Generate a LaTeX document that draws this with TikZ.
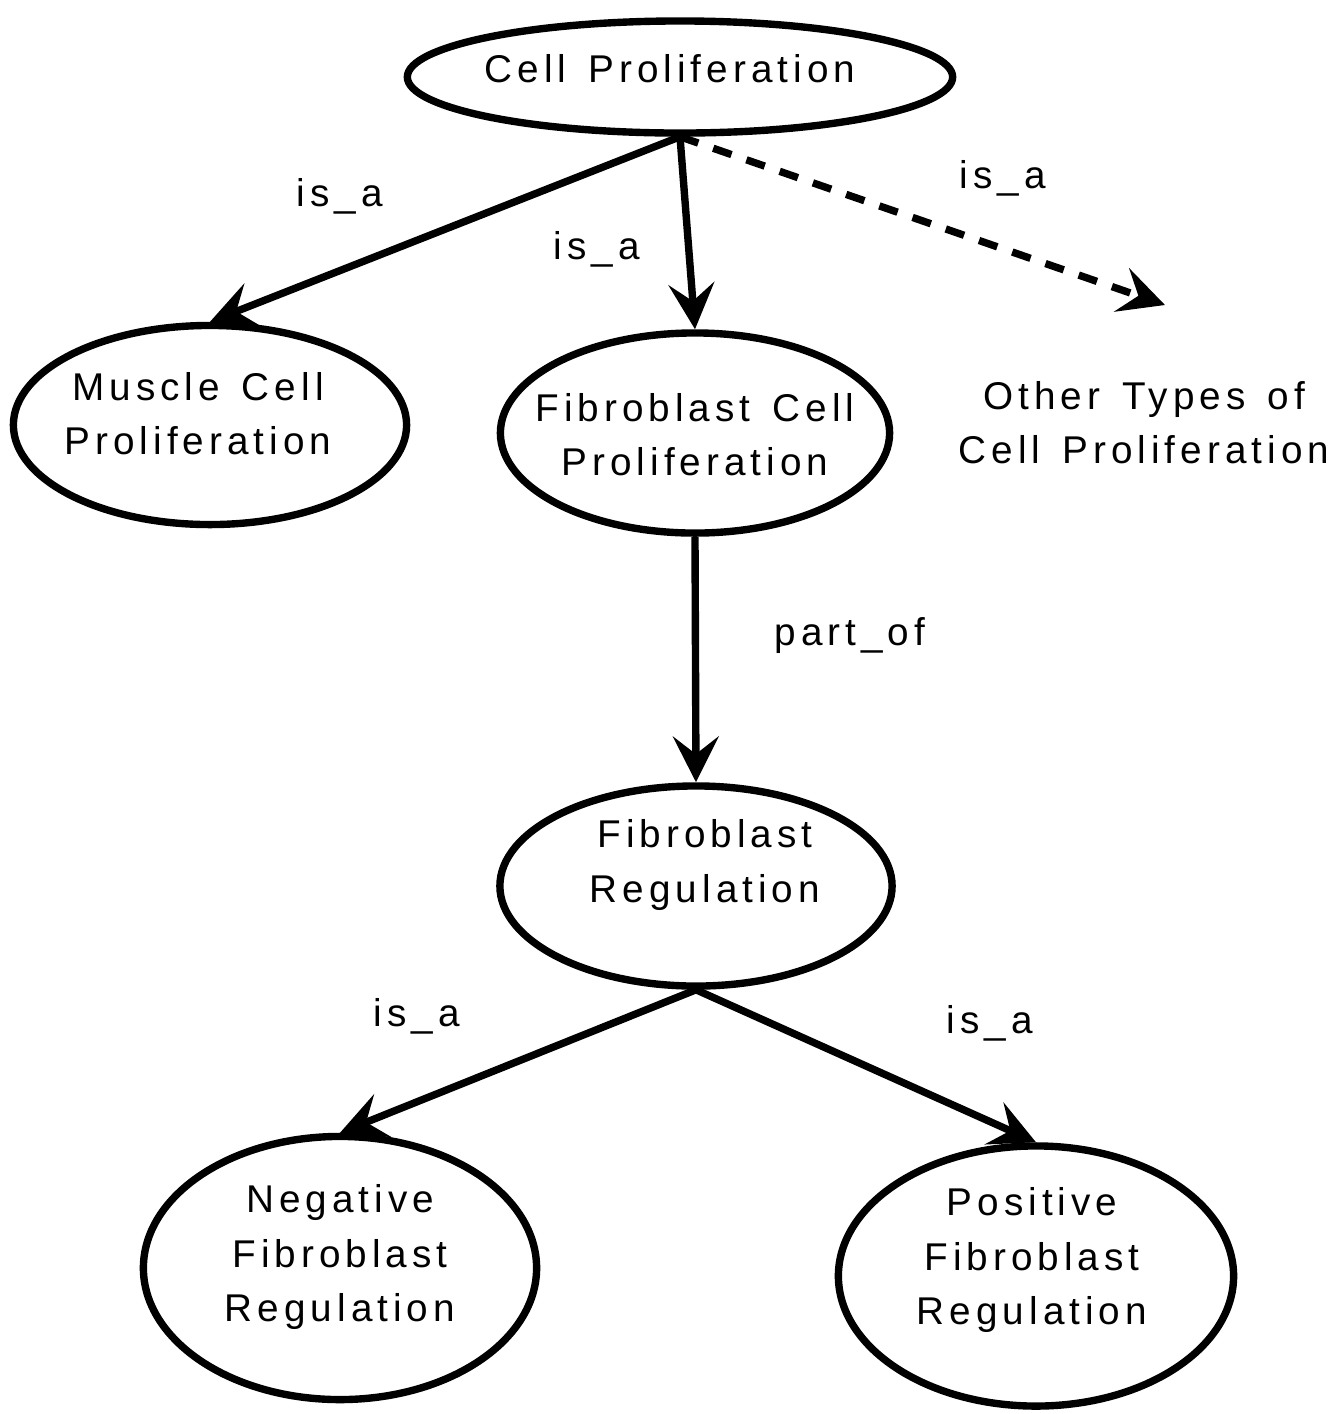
\documentclass[tikz,border=0pt]{standalone}
\usepackage{fontspec}
\usepackage{tikz}
\usetikzlibrary{shapes.geometric,arrows.meta}
\newfontfamily\termfont{Liberation Sans}[LetterSpace=13, WordSpace=1.4]

\tikzset{
  term/.style={ellipse, draw, line width=2.1pt, inner sep=0pt},
  termtext/.style={align=center, inner sep=0pt,
                   font=\termfont\fontsize{11}{15.4}\selectfont},
  rel/.style={-{Stealth[length=13pt, width=13pt, inset=5pt]}, line width=2.1pt},
  rellabel/.style={font=\termfont\fontsize{11}{15.4}\selectfont, inner sep=0pt},
}

\begin{document}
\begin{tikzpicture}[x=0.01cm, y=-0.01cm]
  \useasboundingbox (0,0) rectangle (1335,1414);

  % terms
  \node[term, minimum width=5.45cm, minimum height=1.12cm] (cell) at (680,77) {};
  \node[term, minimum width=3.93cm, minimum height=1.99cm] (muscle) at (210,425) {};
  \node[term, minimum width=3.89cm, minimum height=2.0cm] (fibcell) at (695,433) {};
  \node[term, minimum width=3.92cm, minimum height=2.0cm] (fibreg) at (696,886) {};
  \node[term, minimum width=3.93cm, minimum height=2.63cm] (negreg) at (340,1268) {};
  \node[term, minimum width=3.95cm, minimum height=2.6cm] (posreg) at (1036,1276) {};

  % term names
  \node[termtext] (celltxt) at (670,69) {Cell Proliferation};
  \node[termtext] (muscletxt) at (198,414) {Muscle Cell\\Proliferation};
  \node[termtext] (fibcelltxt) at (695,435) {Fibroblast Cell\\Proliferation};
  \node[termtext] (fibregtxt) at (705,865) {Fibroblast\\Regulation};
  \node[termtext] (negregtxt) at (340,1257) {Negative\\Fibroblast\\Regulation};
  \node[termtext] (posregtxt) at (1032,1260) {Positive\\Fibroblast\\Regulation};
  \node[termtext] (other) at (1144,423) {Other Types of\\Cell Proliferation};
  \coordinate (otherend) at (1165,305);

  % relations
  \draw[rel] (cell.south) -- (muscle.north);
  \draw[rel] (cell.south) -- (fibcell.north);
  \draw[rel, dash pattern=on 5.5pt off 4.5pt] (cell.south) -- (otherend);
  \draw[rel] (fibcell.south) -- (fibreg.north);
  \draw[rel] (fibreg.south) -- (negreg.north);
  \draw[rel] (fibreg.south) -- (posreg.north);

  % relation labels
  \node[rellabel] (l1) at (340,196) {is\_a};
  \node[rellabel] (l2) at (597,249) {is\_a};
  \node[rellabel] (l3) at (1003,178) {is\_a};
  \node[rellabel] (l4) at (850,636) {part\_of};
  \node[rellabel] (l5) at (417,1016) {is\_a};
  \node[rellabel] (l6) at (990,1023) {is\_a};
\end{tikzpicture}
\end{document}
